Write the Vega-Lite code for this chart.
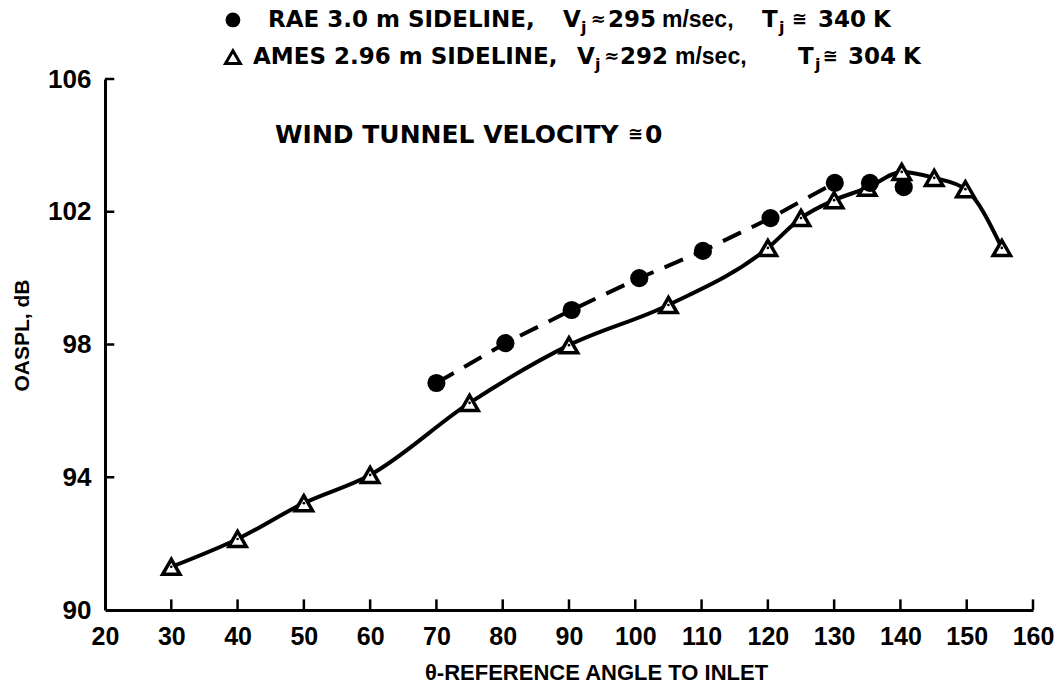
{
  "$schema": "https://vega.github.io/schema/vega-lite/v6.json",
  "width": 928,
  "height": 531,
  "autosize": {"type": "none"},
  "padding": {"left": 105, "top": 79, "right": 31, "bottom": 81},
  "background": "white",
  "config": {"view": {"stroke": null}, "font": "Liberation Sans"},
  "datasets": {
    "ames": [
      {"angle": 30, "oaspl": 91.3},
      {"angle": 40, "oaspl": 92.14},
      {"angle": 50, "oaspl": 93.22},
      {"angle": 60, "oaspl": 94.07},
      {"angle": 75, "oaspl": 96.24},
      {"angle": 90, "oaspl": 97.98},
      {"angle": 105, "oaspl": 99.19},
      {"angle": 120, "oaspl": 100.91},
      {"angle": 125, "oaspl": 101.81},
      {"angle": 130, "oaspl": 102.35},
      {"angle": 135, "oaspl": 102.72},
      {"angle": 140.2, "oaspl": 103.2},
      {"angle": 145.1, "oaspl": 103.02},
      {"angle": 149.8, "oaspl": 102.68},
      {"angle": 155.3, "oaspl": 100.91}
    ],
    "rae": [
      {"angle": 70, "oaspl": 96.84},
      {"angle": 80.4, "oaspl": 98.04},
      {"angle": 90.4, "oaspl": 99.04},
      {"angle": 100.6, "oaspl": 100.0},
      {"angle": 110.2, "oaspl": 100.82},
      {"angle": 120.4, "oaspl": 101.81},
      {"angle": 130.1, "oaspl": 102.87},
      {"angle": 135.4, "oaspl": 102.87},
      {"angle": 140.5, "oaspl": 102.74}
    ],
    "xticks": [
      {"angle": 30, "oaspl": 90}, {"angle": 40, "oaspl": 90}, {"angle": 50, "oaspl": 90},
      {"angle": 60, "oaspl": 90}, {"angle": 70, "oaspl": 90}, {"angle": 80, "oaspl": 90},
      {"angle": 90, "oaspl": 90}, {"angle": 100, "oaspl": 90}, {"angle": 110, "oaspl": 90},
      {"angle": 120, "oaspl": 90}, {"angle": 130, "oaspl": 90}, {"angle": 140, "oaspl": 90},
      {"angle": 150, "oaspl": 90}, {"angle": 160, "oaspl": 90}
    ],
    "yticks": [
      {"angle": 20, "oaspl": 94}, {"angle": 20, "oaspl": 98},
      {"angle": 20, "oaspl": 102}, {"angle": 20, "oaspl": 106}
    ],
    "keys": [
      {"series": "RAE", "angle": 39.3, "oaspl": 107.78},
      {"series": "AMES", "angle": 39.3, "oaspl": 106.66}
    ],
    "notes": [
      {"role": "caps", "angle": 44.59, "oaspl": 107.78, "label": "RAE 3.0 m SIDELINE,"},
      {"role": "caps", "angle": 89.09, "oaspl": 107.78, "label": "V"},
      {"role": "sub", "angle": 91.8, "oaspl": 107.54, "label": "j"},
      {"role": "sym", "angle": 93.3, "oaspl": 107.78, "label": "≈"},
      {"role": "caps", "angle": 95.88, "oaspl": 107.78, "label": "295"},
      {"role": "lower", "angle": 104.02, "oaspl": 107.78, "label": "m/sec,"},
      {"role": "caps", "angle": 119.11, "oaspl": 107.78, "label": "T"},
      {"role": "sub", "angle": 121.67, "oaspl": 107.54, "label": "j"},
      {"role": "sym", "angle": 123.63, "oaspl": 107.78, "label": "≅"},
      {"role": "caps", "angle": 127.56, "oaspl": 107.78, "label": "340"},
      {"role": "caps", "angle": 135.85, "oaspl": 107.78, "label": "K"},
      {"role": "caps", "angle": 42.33, "oaspl": 106.66, "label": "AMES 2.96 m SIDELINE,"},
      {"role": "caps", "angle": 91.2, "oaspl": 106.66, "label": "V"},
      {"role": "sub", "angle": 93.92, "oaspl": 106.42, "label": "j"},
      {"role": "sym", "angle": 95.3, "oaspl": 106.66, "label": "≈"},
      {"role": "caps", "angle": 97.69, "oaspl": 106.66, "label": "292"},
      {"role": "lower", "angle": 105.99, "oaspl": 106.66, "label": "m/sec,"},
      {"role": "caps", "angle": 124.54, "oaspl": 106.66, "label": "T"},
      {"role": "sub", "angle": 127.1, "oaspl": 106.42, "label": "j"},
      {"role": "sym", "angle": 128.3, "oaspl": 106.66, "label": "≅"},
      {"role": "caps", "angle": 132.08, "oaspl": 106.66, "label": "304"},
      {"role": "caps", "angle": 140.38, "oaspl": 106.66, "label": "K"},
      {"role": "wind", "angle": 45.65, "oaspl": 104.31, "label": "WIND TUNNEL VELOCITY"},
      {"role": "sym", "angle": 98.9, "oaspl": 104.31, "label": "≅"},
      {"role": "wind", "angle": 101.46, "oaspl": 104.31, "label": "0"}
    ]
  },
  "encoding": {
    "x": {
      "field": "angle",
      "type": "quantitative",
      "scale": {"domain": [20, 160], "nice": false, "zero": false},
      "axis": {
        "values": [20, 30, 40, 50, 60, 70, 80, 90, 100, 110, 120, 130, 140, 150, 160],
        "title": "θ-REFERENCE ANGLE TO INLET",
        "grid": false,
        "ticks": false,
        "domainColor": "black",
        "domainWidth": 3,
        "labelFont": "Liberation Sans",
        "labelFontSize": 25,
        "labelFontWeight": "bold",
        "labelColor": "black",
        "labelPadding": 14,
        "labelFlush": false,
        "titleFont": "Liberation Sans",
        "titleFontSize": 22,
        "titleFontWeight": "bold",
        "titleColor": "black",
        "titleX": 491,
        "titleY": 62,
        "titleBaseline": "middle"
      }
    },
    "y": {
      "field": "oaspl",
      "type": "quantitative",
      "scale": {"domain": [90, 106], "nice": false, "zero": false},
      "axis": {
        "values": [90, 94, 98, 102, 106],
        "title": "OASPL, dB",
        "grid": false,
        "ticks": false,
        "domainColor": "black",
        "domainWidth": 3,
        "labelFont": "Liberation Sans",
        "labelFontSize": 26,
        "labelFontWeight": "bold",
        "labelColor": "black",
        "labelPadding": 14,
        "labelFlush": false,
        "titleFont": "Liberation Sans",
        "titleFontSize": 21,
        "titleFontWeight": "bold",
        "titleColor": "black",
        "titleX": -83,
        "titleY": 256,
        "titleAngle": 270,
        "titleAlign": "center",
        "titleBaseline": "middle"
      }
    }
  },
  "layer": [
    {
      "data": {"name": "xticks"},
      "mark": {"type": "rule", "color": "black", "strokeWidth": 2.5},
      "encoding": {"y2": {"datum": 90.32}}
    },
    {
      "data": {"name": "yticks"},
      "mark": {"type": "rule", "color": "black", "strokeWidth": 2.5},
      "encoding": {"x2": {"datum": 21.4}}
    },
    {
      "data": {"name": "ames"},
      "mark": {"type": "line", "interpolate": "monotone", "color": "black", "strokeWidth": 4}
    },
    {
      "data": {"name": "rae"},
      "transform": [{"filter": "datum.angle <= 131"}],
      "mark": {"type": "line", "color": "black", "strokeWidth": 4, "strokeDash": [20, 12]}
    },
    {
      "data": {"name": "ames"},
      "mark": {"type": "point", "shape": "triangle-up", "filled": true, "fill": "white", "stroke": "black", "strokeWidth": 3.5, "size": 300, "opacity": 1}
    },
    {
      "data": {"name": "ames"},
      "mark": {"type": "point", "shape": "circle", "filled": true, "color": "black", "size": 7, "opacity": 1}
    },
    {
      "data": {"name": "rae"},
      "mark": {"type": "point", "shape": "circle", "filled": true, "color": "black", "size": 330, "opacity": 1}
    },
    {
      "data": {"name": "keys"},
      "transform": [{"filter": "datum.series === 'RAE'"}],
      "mark": {"type": "point", "shape": "circle", "filled": true, "color": "black", "size": 220, "opacity": 1}
    },
    {
      "data": {"name": "keys"},
      "transform": [{"filter": "datum.series === 'AMES'"}],
      "mark": {"type": "point", "shape": "triangle-up", "filled": true, "fill": "white", "stroke": "black", "strokeWidth": 3, "size": 220, "opacity": 1}
    },
    {
      "data": {"name": "notes"},
      "transform": [{"filter": "datum.role === 'caps'"}],
      "mark": {"type": "text", "align": "left", "baseline": "middle", "font": "DejaVu Sans", "fontWeight": "bold", "fontSize": 23, "color": "black"},
      "encoding": {"text": {"field": "label"}}
    },
    {
      "data": {"name": "notes"},
      "transform": [{"filter": "datum.role === 'wind'"}],
      "mark": {"type": "text", "align": "left", "baseline": "middle", "font": "DejaVu Sans", "fontWeight": "bold", "fontSize": 25, "color": "black"},
      "encoding": {"text": {"field": "label"}}
    },
    {
      "data": {"name": "notes"},
      "transform": [{"filter": "datum.role === 'lower'"}],
      "mark": {"type": "text", "align": "left", "baseline": "middle", "font": "Liberation Sans", "fontWeight": "bold", "fontSize": 23, "color": "black"},
      "encoding": {"text": {"field": "label"}}
    },
    {
      "data": {"name": "notes"},
      "transform": [{"filter": "datum.role === 'sym'"}],
      "mark": {"type": "text", "align": "left", "baseline": "middle", "font": "DejaVu Sans", "fontWeight": "bold", "fontSize": 18, "color": "black"},
      "encoding": {"text": {"field": "label"}}
    },
    {
      "data": {"name": "notes"},
      "transform": [{"filter": "datum.role === 'sub'"}],
      "mark": {"type": "text", "align": "left", "baseline": "middle", "font": "DejaVu Sans", "fontWeight": "bold", "fontSize": 16, "color": "black"},
      "encoding": {"text": {"field": "label"}}
    }
  ]
}
